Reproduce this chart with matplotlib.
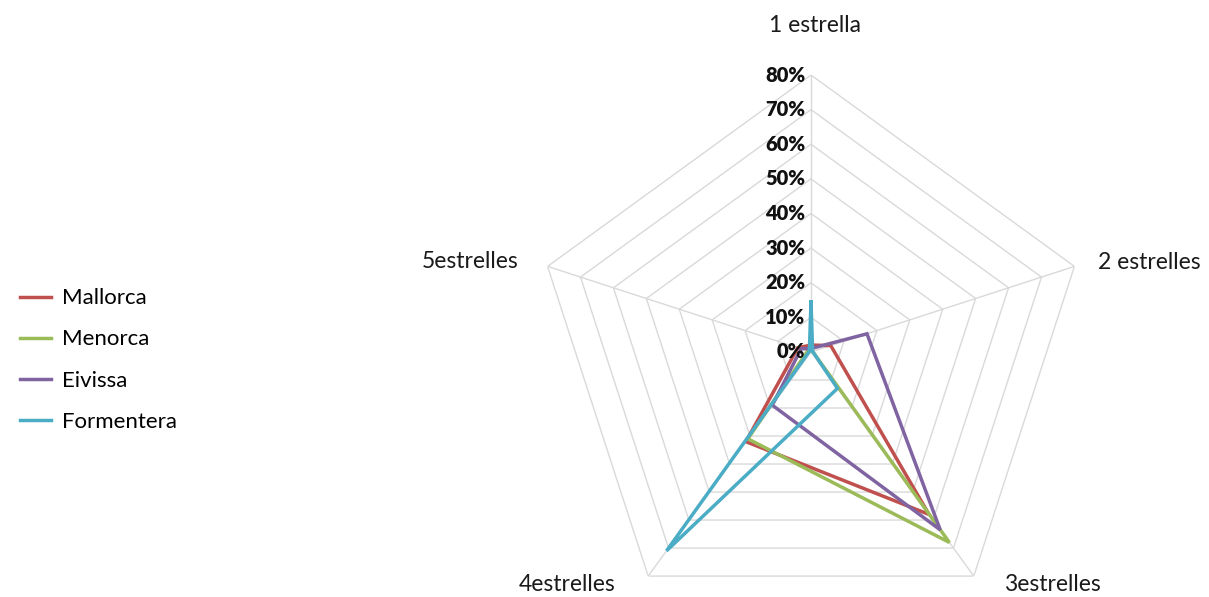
import numpy as np
import matplotlib
matplotlib.use('Agg')
import matplotlib.pyplot as plt

# hotel category share by island
categories = ['1 estrella', '2 estrelles', '3estrelles', '4estrelles', '5estrelles']
islands = ['Mallorca', 'Menorca', 'Eivissa', 'Formentera']
mallorca = [2, 6, 58, 32, 4]
menorca = [0.5, 0.5, 68, 31, 1]
eivissa = [1, 17, 63.5, 19, 3]
formentera = [14.5, 0.5, 13, 71, 0.5]
tick_levels = [0, 10, 20, 30, 40, 50, 60, 70, 80]

colors = ['#C0504D', '#9BBB59', '#8064A2', '#4BACC6']
grid_color = '#D9D9D9'

plt.rcParams['font.family'] = ['Lato', 'DejaVu Sans']

fig = plt.figure(figsize=(12.09, 5.97), dpi=100)
ax = fig.add_axes([0.4417, -0.0536, 0.4582, 0.928], projection='polar')
ax.set_theta_offset(np.pi / 2)
ax.set_theta_direction(-1)
ax.set_ylim(0, 80)
ax.grid(False)
ax.spines['polar'].set_visible(False)
ax.set_xticks([])
ax.set_yticks([])
ax.patch.set_alpha(0)

n = len(categories)
angles = np.arange(n) * 2 * np.pi / n
closed = np.append(angles, angles[0])

# polygon grid and spokes
for lvl in tick_levels[1:]:
    ax.plot(closed, [lvl] * (n + 1), color=grid_color, lw=1, zorder=1)
for a in angles:
    ax.plot([a, a], [0, 80], color=grid_color, lw=1, zorder=1)

for vals, name, c in zip([mallorca, menorca, eivissa, formentera], islands, colors):
    v = np.append(vals, vals[0])
    ax.plot(closed, v, color=c, lw=2.5, label=name, zorder=3, solid_joinstyle='miter')

# radial tick labels
for lvl in tick_levels:
    ax.annotate(f'{lvl}%', xy=(0, lvl), xytext=(-4, 0), textcoords='offset points',
                ha='right', va='center', fontsize=14.5, fontweight='heavy', color='#111111',
                zorder=4)

# category labels
label_pos = [(0.7, 94.4, 'center'), (72.6, 86.9, 'left'), (134, 96.8, 'center'),
             (226.3, 97.4, 'center'), (287.1, 88.5, 'right')]
for cat, (deg, r, ha) in zip(categories, label_pos):
    ax.text(np.radians(deg), r, cat, ha=ha, va='center', fontsize=16.5, color='#1a1a1a',
            clip_on=False)

fig.legend(loc='center left', bbox_to_anchor=(0.0, 0.397), frameon=False, fontsize=16,
           handlelength=1.4, handletextpad=0.5, labelspacing=0.95)

fig.savefig('out.png', dpi=100)
